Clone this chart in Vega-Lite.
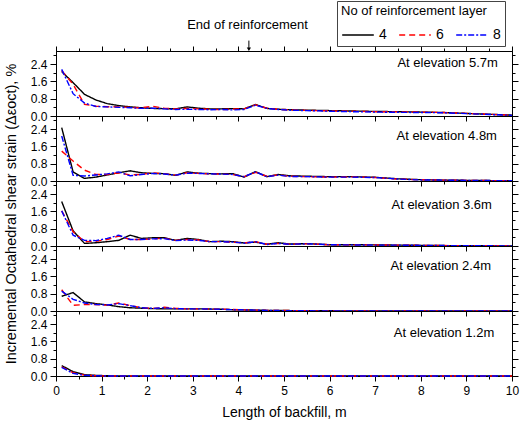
{
"$schema":"https://vega.github.io/schema/vega-lite/v6.json",
"padding":{"left":2,"top":0,"right":3,"bottom":2},
"bounds":"flush",
"spacing":0,
"config":{
 "font":"Liberation Sans",
 "view":{"stroke":"black","strokeWidth":1},
 "axis":{"grid":false,"domainColor":"black","tickColor":"black","labelColor":"black","titleColor":"black","labelFont":"Liberation Sans","titleFont":"Liberation Sans","labelFontSize":12,"titleFontSize":14,"titleFontWeight":"normal","labelFlush":false,"labelPadding":3,"tickWidth":1,"domainWidth":1},
 "legend":{"titleFont":"Liberation Sans","titleFontSize":13,"titleFontWeight":"normal","titleColor":"black","labelFont":"Liberation Sans","labelFontSize":14,"labelColor":"black","symbolType":"stroke","symbolSize":1000,"symbolStrokeWidth":1.5,"strokeColor":"#444444","padding":4,"columnPadding":9,"labelOffset":4,"titlePadding":0,"rowPadding":0}
},
"datasets":{
 "lab":[{"e":"5.7","t":"At elevation 5.7m"},{"e":"4.8","t":"At elevation 4.8m"},{"e":"3.6","t":"At elevation 3.6m"},{"e":"2.4","t":"At elevation 2.4m"},{"e":"1.2","t":"At elevation 1.2m"}],
 "ann":[{"t":"End of reinforcement"}],
 "d":[
{"e":"5.7","x":0.125,"4":2.05,"6":2.1,"8":2.15},
{"e":"5.7","x":0.375,"4":1.54,"6":1.46,"8":1.03},
{"e":"5.7","x":0.625,"4":1.0,"6":0.54,"8":0.6},
{"e":"5.7","x":0.875,"4":0.74,"6":0.45,"8":0.44},
{"e":"5.7","x":1.125,"4":0.57,"6":0.43,"8":0.42},
{"e":"5.7","x":1.375,"4":0.48,"6":0.42,"8":0.4},
{"e":"5.7","x":1.625,"4":0.42,"6":0.4,"8":0.38},
{"e":"5.7","x":1.875,"4":0.38,"6":0.38,"8":0.35},
{"e":"5.7","x":2.125,"4":0.35,"6":0.45,"8":0.36},
{"e":"5.7","x":2.375,"4":0.34,"6":0.36,"8":0.33},
{"e":"5.7","x":2.625,"4":0.33,"6":0.33,"8":0.3},
{"e":"5.7","x":2.875,"4":0.42,"6":0.35,"8":0.31},
{"e":"5.7","x":3.125,"4":0.36,"6":0.33,"8":0.3},
{"e":"5.7","x":3.375,"4":0.33,"6":0.31,"8":0.29},
{"e":"5.7","x":3.625,"4":0.33,"6":0.3,"8":0.3},
{"e":"5.7","x":3.875,"4":0.34,"6":0.32,"8":0.28},
{"e":"5.7","x":4.125,"4":0.33,"6":0.33,"8":0.3},
{"e":"5.7","x":4.375,"4":0.53,"6":0.52,"8":0.5},
{"e":"5.7","x":4.625,"4":0.35,"6":0.36,"8":0.35},
{"e":"5.7","x":4.875,"4":0.31,"6":0.31,"8":0.3},
{"e":"5.7","x":5.125,"4":0.29,"6":0.28,"8":0.27},
{"e":"5.7","x":5.5,"4":0.27,"6":0.26,"8":0.25},
{"e":"5.7","x":6,"4":0.25,"6":0.24,"8":0.22},
{"e":"5.7","x":6.5,"4":0.23,"6":0.22,"8":0.2},
{"e":"5.7","x":7,"4":0.21,"6":0.2,"8":0.18},
{"e":"5.7","x":7.5,"4":0.2,"6":0.19,"8":0.17},
{"e":"5.7","x":8,"4":0.18,"6":0.18,"8":0.16},
{"e":"5.7","x":8.5,"4":0.16,"6":0.16,"8":0.15},
{"e":"5.7","x":9,"4":0.12,"6":0.12,"8":0.11},
{"e":"5.7","x":9.5,"4":0.08,"6":0.08,"8":0.07},
{"e":"5.7","x":10,"4":0.04,"6":0.04,"8":0.03},
{"e":"4.8","x":0.125,"4":2.46,"6":1.38,"8":2.08},
{"e":"4.8","x":0.375,"4":0.42,"6":0.92,"8":0.26},
{"e":"4.8","x":0.625,"4":0.12,"6":0.5,"8":0.23},
{"e":"4.8","x":0.875,"4":0.18,"6":0.3,"8":0.28},
{"e":"4.8","x":1.125,"4":0.28,"6":0.3,"8":0.33},
{"e":"4.8","x":1.375,"4":0.38,"6":0.38,"8":0.42},
{"e":"4.8","x":1.625,"4":0.47,"6":0.28,"8":0.24},
{"e":"4.8","x":1.875,"4":0.38,"6":0.3,"8":0.3},
{"e":"4.8","x":2.125,"4":0.35,"6":0.38,"8":0.35},
{"e":"4.8","x":2.375,"4":0.34,"6":0.33,"8":0.32},
{"e":"4.8","x":2.625,"4":0.26,"6":0.27,"8":0.27},
{"e":"4.8","x":2.875,"4":0.42,"6":0.38,"8":0.36},
{"e":"4.8","x":3.125,"4":0.36,"6":0.35,"8":0.35},
{"e":"4.8","x":3.375,"4":0.34,"6":0.33,"8":0.33},
{"e":"4.8","x":3.625,"4":0.33,"6":0.32,"8":0.32},
{"e":"4.8","x":3.875,"4":0.34,"6":0.3,"8":0.3},
{"e":"4.8","x":4.125,"4":0.18,"6":0.2,"8":0.2},
{"e":"4.8","x":4.375,"4":0.43,"6":0.4,"8":0.42},
{"e":"4.8","x":4.625,"4":0.2,"6":0.22,"8":0.2},
{"e":"4.8","x":4.875,"4":0.3,"6":0.28,"8":0.27},
{"e":"4.8","x":5.125,"4":0.24,"6":0.22,"8":0.21},
{"e":"4.8","x":5.5,"4":0.22,"6":0.2,"8":0.2},
{"e":"4.8","x":6,"4":0.2,"6":0.18,"8":0.18},
{"e":"4.8","x":6.5,"4":0.2,"6":0.19,"8":0.18},
{"e":"4.8","x":7,"4":0.17,"6":0.16,"8":0.16},
{"e":"4.8","x":7.5,"4":0.1,"6":0.09,"8":0.09},
{"e":"4.8","x":8,"4":0.06,"6":0.06,"8":0.05},
{"e":"4.8","x":8.5,"4":0.04,"6":0.04,"8":0.04},
{"e":"4.8","x":9,"4":0.03,"6":0.03,"8":0.03},
{"e":"4.8","x":9.5,"4":0.02,"6":0.02,"8":0.02},
{"e":"4.8","x":10,"4":0.01,"6":0.01,"8":0.01},
{"e":"3.6","x":0.125,"4":2.05,"6":1.62,"8":1.62},
{"e":"3.6","x":0.375,"4":0.7,"6":0.66,"8":0.5},
{"e":"3.6","x":0.625,"4":0.12,"6":0.2,"8":0.26},
{"e":"3.6","x":0.875,"4":0.15,"6":0.22,"8":0.25},
{"e":"3.6","x":1.125,"4":0.2,"6":0.3,"8":0.35},
{"e":"3.6","x":1.375,"4":0.26,"6":0.46,"8":0.5},
{"e":"3.6","x":1.625,"4":0.5,"6":0.3,"8":0.3},
{"e":"3.6","x":1.875,"4":0.35,"6":0.3,"8":0.3},
{"e":"3.6","x":2.125,"4":0.38,"6":0.33,"8":0.33},
{"e":"3.6","x":2.375,"4":0.38,"6":0.36,"8":0.34},
{"e":"3.6","x":2.625,"4":0.26,"6":0.26,"8":0.25},
{"e":"3.6","x":2.875,"4":0.35,"6":0.3,"8":0.28},
{"e":"3.6","x":3.125,"4":0.3,"6":0.28,"8":0.26},
{"e":"3.6","x":3.375,"4":0.2,"6":0.2,"8":0.2},
{"e":"3.6","x":3.625,"4":0.22,"6":0.2,"8":0.2},
{"e":"3.6","x":3.875,"4":0.2,"6":0.18,"8":0.18},
{"e":"3.6","x":4.125,"4":0.14,"6":0.14,"8":0.13},
{"e":"3.6","x":4.375,"4":0.18,"6":0.2,"8":0.2},
{"e":"3.6","x":4.625,"4":0.08,"6":0.08,"8":0.07},
{"e":"3.6","x":4.875,"4":0.15,"6":0.12,"8":0.12},
{"e":"3.6","x":5.125,"4":0.09,"6":0.08,"8":0.08},
{"e":"3.6","x":5.5,"4":0.11,"6":0.1,"8":0.1},
{"e":"3.6","x":6,"4":0.06,"6":0.06,"8":0.06},
{"e":"3.6","x":6.5,"4":0.06,"6":0.05,"8":0.05},
{"e":"3.6","x":7,"4":0.05,"6":0.05,"8":0.04},
{"e":"3.6","x":7.5,"4":0.04,"6":0.04,"8":0.04},
{"e":"3.6","x":8,"4":0.03,"6":0.03,"8":0.03},
{"e":"3.6","x":8.5,"4":0.02,"6":0.02,"8":0.02},
{"e":"3.6","x":9,"4":0.01,"6":0.01,"8":0.01},
{"e":"3.6","x":9.5,"4":0.01,"6":0.01,"8":0.01},
{"e":"3.6","x":10,"4":0,"6":0,"8":0},
{"e":"2.4","x":0.125,"4":0.68,"6":0.98,"8":0.92},
{"e":"2.4","x":0.375,"4":0.85,"6":0.26,"8":0.54},
{"e":"2.4","x":0.625,"4":0.42,"6":0.3,"8":0.37},
{"e":"2.4","x":0.875,"4":0.34,"6":0.3,"8":0.3},
{"e":"2.4","x":1.125,"4":0.28,"6":0.27,"8":0.28},
{"e":"2.4","x":1.375,"4":0.2,"6":0.37,"8":0.34},
{"e":"2.4","x":1.625,"4":0.15,"6":0.25,"8":0.25},
{"e":"2.4","x":1.875,"4":0.13,"6":0.15,"8":0.15},
{"e":"2.4","x":2.125,"4":0.11,"6":0.12,"8":0.12},
{"e":"2.4","x":2.375,"4":0.1,"6":0.17,"8":0.15},
{"e":"2.4","x":2.625,"4":0.1,"6":0.12,"8":0.11},
{"e":"2.4","x":2.875,"4":0.1,"6":0.1,"8":0.1},
{"e":"2.4","x":3.125,"4":0.1,"6":0.1,"8":0.1},
{"e":"2.4","x":3.375,"4":0.09,"6":0.09,"8":0.09},
{"e":"2.4","x":3.625,"4":0.08,"6":0.08,"8":0.08},
{"e":"2.4","x":3.875,"4":0.06,"6":0.07,"8":0.06},
{"e":"2.4","x":4.125,"4":0.05,"6":0.05,"8":0.05},
{"e":"2.4","x":4.375,"4":0.04,"6":0.04,"8":0.04},
{"e":"2.4","x":4.625,"4":0.03,"6":0.03,"8":0.03},
{"e":"2.4","x":4.875,"4":0.02,"6":0.02,"8":0.02},
{"e":"2.4","x":5.125,"4":0.02,"6":0.02,"8":0.01},
{"e":"2.4","x":5.5,"4":0.01,"6":0.01,"8":0.01},
{"e":"2.4","x":6,"4":0.01,"6":0,"8":0},
{"e":"2.4","x":6.5,"4":0,"6":0,"8":0},
{"e":"2.4","x":7,"4":0,"6":0,"8":0},
{"e":"2.4","x":7.5,"4":0,"6":0,"8":0},
{"e":"2.4","x":8,"4":0,"6":0,"8":0},
{"e":"2.4","x":8.5,"4":0,"6":0,"8":0},
{"e":"2.4","x":9,"4":0,"6":0,"8":0},
{"e":"2.4","x":9.5,"4":0,"6":0,"8":0},
{"e":"2.4","x":10,"4":0,"6":0,"8":0},
{"e":"1.2","x":0.125,"4":0.48,"6":0.42,"8":0.4},
{"e":"1.2","x":0.375,"4":0.2,"6":0.15,"8":0.12},
{"e":"1.2","x":0.625,"4":0.06,"6":0.04,"8":0.03},
{"e":"1.2","x":0.875,"4":0.03,"6":0.01,"8":0.01},
{"e":"1.2","x":1.125,"4":0.01,"6":0,"8":0},
{"e":"1.2","x":1.375,"4":0,"6":0,"8":0},
{"e":"1.2","x":2,"4":0,"6":0,"8":0},
{"e":"1.2","x":3,"4":0,"6":0,"8":0},
{"e":"1.2","x":4,"4":0,"6":0,"8":0},
{"e":"1.2","x":5,"4":0,"6":0,"8":0},
{"e":"1.2","x":6,"4":0,"6":0,"8":0},
{"e":"1.2","x":7,"4":0,"6":0,"8":0},
{"e":"1.2","x":8,"4":0,"6":0,"8":0},
{"e":"1.2","x":9,"4":0,"6":0,"8":0},
{"e":"1.2","x":10,"4":0,"6":0,"8":0}
 ]
},
"vconcat":[
{
 "width":456,"height":65,
 "layer":[
  {"data":{"name":"d"},"transform":[{"filter":"datum.e === '5.7'"},{"fold":["4","6","8"],"as":["n","y"]}],
   "mark":{"type":"line","strokeWidth":1.4},
   "encoding":{
    "x":{"field":"x","type":"quantitative","scale":{"domain":[0,10],"nice":false,"zero":false},"axis":{"orient":"bottom","values":[0,0.5,1,1.5,2,2.5,3,3.5,4,4.5,5,5.5,6,6.5,7,7.5,8,8.5,9,9.5,10],"labels":false,"title":null,"tickSize":{"condition":{"test":"datum.value % 1 === 0","value":5},"value":3}}},
    "y":{"field":"y","type":"quantitative","scale":{"domain":[0,3],"nice":false},"axis":{"orient":"left","values":[0,0.4,0.8,1.2,1.6,2,2.4,2.8],"labelExpr":"round(datum.value*10) % 8 === 0 ? format(datum.value, '.1f') : ''","title":null,"tickSize":{"condition":{"test":"round(datum.value*10) % 8 === 0","value":6},"value":3}}},
    "color":{"field":"n","type":"nominal","scale":{"domain":["4","6","8"],"range":["#000000","#ff0000","#0000ff"]},"legend":{"title":"No of reinforcement layer","orient":"none","legendX":281,"legendY":-50,"direction":"horizontal","titleFontSize":13,"labelFontSize":14}},
    "strokeDash":{"field":"n","type":"nominal","scale":{"domain":["4","6","8"],"range":[[1,0],[6,4],[6,2,2,2]]},"legend":{"title":"No of reinforcement layer","orient":"none","legendX":281,"legendY":-50,"direction":"horizontal","titleFontSize":13,"labelFontSize":14}}
   }},
  {"data":{"name":"d"},"transform":[{"filter":"datum.e === '5.7'"},{"fold":["4","6","8"],"as":["n","y"]}],
   "mark":{"type":"point","opacity":0},
   "encoding":{
    "x":{"field":"x","type":"quantitative","scale":{"domain":[0,10],"nice":false,"zero":false},"axis":{"orient":"top","values":[0,0.5,1,1.5,2,2.5,3,3.5,4,4.5,5,5.5,6,6.5,7,7.5,8,8.5,9,9.5,10],"labels":false,"title":null,"tickSize":{"condition":{"test":"datum.value % 1 === 0","value":5},"value":3}}},
    "y":{"field":"y","type":"quantitative","scale":{"domain":[0,3],"nice":false},"axis":{"orient":"right","values":[0,0.4,0.8,1.2,1.6,2,2.4,2.8],"labels":false,"title":null,"tickSize":{"condition":{"test":"round(datum.value*10) % 8 === 0","value":6},"value":3}}}
   }},
  {"data":{"name":"lab"},"transform":[{"filter":"datum.e === '5.7'"}],
   "mark":{"type":"text","align":"right","baseline":"middle","fontSize":13,"font":"Liberation Sans","color":"black"},
   "encoding":{
    "x":{"datum":9.69,"type":"quantitative","scale":{"domain":[0,10],"nice":false,"zero":false},"axis":null},
    "y":{"datum":2.45,"type":"quantitative","scale":{"domain":[0,3],"nice":false},"axis":null},
    "text":{"field":"t"}
   }},
  {"data":{"name":"ann"},
   "mark":{"type":"text","align":"center","baseline":"middle","fontSize":13,"font":"Liberation Sans","color":"black"},
   "encoding":{
    "x":{"datum":4.2,"type":"quantitative","scale":{"domain":[0,10],"nice":false,"zero":false},"axis":null},
    "y":{"datum":4.22,"type":"quantitative","scale":{"domain":[0,3],"nice":false},"axis":null},
    "text":{"field":"t"}
   }},
  {"data":{"name":"ann"},
   "mark":{"type":"rule","color":"black","strokeWidth":1},
   "encoding":{
    "x":{"datum":4.23,"type":"quantitative","scale":{"domain":[0,10],"nice":false,"zero":false},"axis":null},
    "y":{"datum":3.48,"type":"quantitative","scale":{"domain":[0,3],"nice":false},"axis":null},
    "y2":{"datum":3.1}
   }},
  {"data":{"name":"ann"},
   "mark":{"type":"point","shape":"triangle-down","filled":true,"color":"black","size":18,"opacity":1},
   "encoding":{
    "x":{"datum":4.23,"type":"quantitative","scale":{"domain":[0,10],"nice":false,"zero":false},"axis":null},
    "y":{"datum":3.08,"type":"quantitative","scale":{"domain":[0,3],"nice":false},"axis":null}
   }}
 ],
 "resolve":{"axis":{"x":"independent","y":"independent"}}
},
{
 "width":456,"height":65,
 "layer":[
  {"data":{"name":"d"},"transform":[{"filter":"datum.e === '4.8'"},{"fold":["4","6","8"],"as":["n","y"]}],
   "mark":{"type":"line","strokeWidth":1.4},
   "encoding":{
    "x":{"field":"x","type":"quantitative","scale":{"domain":[0,10],"nice":false,"zero":false},"axis":{"orient":"bottom","values":[0,0.5,1,1.5,2,2.5,3,3.5,4,4.5,5,5.5,6,6.5,7,7.5,8,8.5,9,9.5,10],"labels":false,"title":null,"tickSize":{"condition":{"test":"datum.value % 1 === 0","value":5},"value":3}}},
    "y":{"field":"y","type":"quantitative","scale":{"domain":[0,3],"nice":false},"axis":{"orient":"left","values":[0,0.4,0.8,1.2,1.6,2,2.4,2.8],"labelExpr":"round(datum.value*10) % 8 === 0 ? format(datum.value, '.1f') : ''","title":null,"tickSize":{"condition":{"test":"round(datum.value*10) % 8 === 0","value":6},"value":3}}},
    "color":{"field":"n","type":"nominal","scale":{"domain":["4","6","8"],"range":["#000000","#ff0000","#0000ff"]},"legend":{"title":"No of reinforcement layer","orient":"none","legendX":281,"legendY":-50,"direction":"horizontal","titleFontSize":13,"labelFontSize":14}},
    "strokeDash":{"field":"n","type":"nominal","scale":{"domain":["4","6","8"],"range":[[1,0],[6,4],[6,2,2,2]]},"legend":{"title":"No of reinforcement layer","orient":"none","legendX":281,"legendY":-50,"direction":"horizontal","titleFontSize":13,"labelFontSize":14}}
   }},
  {"data":{"name":"d"},"transform":[{"filter":"datum.e === '4.8'"},{"fold":["4","6","8"],"as":["n","y"]}],
   "mark":{"type":"point","opacity":0},
   "encoding":{
    "x":{"field":"x","type":"quantitative","scale":{"domain":[0,10],"nice":false,"zero":false},"axis":null},
    "y":{"field":"y","type":"quantitative","scale":{"domain":[0,3],"nice":false},"axis":{"orient":"right","values":[0,0.4,0.8,1.2,1.6,2,2.4,2.8],"labels":false,"title":null,"tickSize":{"condition":{"test":"round(datum.value*10) % 8 === 0","value":6},"value":3}}}
   }},
  {"data":{"name":"lab"},"transform":[{"filter":"datum.e === '4.8'"}],
   "mark":{"type":"text","align":"right","baseline":"middle","fontSize":13,"font":"Liberation Sans","color":"black"},
   "encoding":{
    "x":{"datum":9.67,"type":"quantitative","scale":{"domain":[0,10],"nice":false,"zero":false},"axis":null},
    "y":{"datum":2.08,"type":"quantitative","scale":{"domain":[0,3],"nice":false},"axis":null},
    "text":{"field":"t"}
   }}
 ],
 "resolve":{"axis":{"x":"independent","y":"independent"}}
},
{
 "width":456,"height":65,
 "layer":[
  {"data":{"name":"d"},"transform":[{"filter":"datum.e === '3.6'"},{"fold":["4","6","8"],"as":["n","y"]}],
   "mark":{"type":"line","strokeWidth":1.4},
   "encoding":{
    "x":{"field":"x","type":"quantitative","scale":{"domain":[0,10],"nice":false,"zero":false},"axis":{"orient":"bottom","values":[0,0.5,1,1.5,2,2.5,3,3.5,4,4.5,5,5.5,6,6.5,7,7.5,8,8.5,9,9.5,10],"labels":false,"title":null,"tickSize":{"condition":{"test":"datum.value % 1 === 0","value":5},"value":3}}},
    "y":{"field":"y","type":"quantitative","scale":{"domain":[0,3],"nice":false},"axis":{"orient":"left","values":[0,0.4,0.8,1.2,1.6,2,2.4,2.8],"labelExpr":"round(datum.value*10) % 8 === 0 ? format(datum.value, '.1f') : ''","title":"Incremental Octahedral shear strain (Δεoct), %","titleFontSize":14.5,"titlePadding":12,"tickSize":{"condition":{"test":"round(datum.value*10) % 8 === 0","value":6},"value":3}}},
    "color":{"field":"n","type":"nominal","scale":{"domain":["4","6","8"],"range":["#000000","#ff0000","#0000ff"]},"legend":{"title":"No of reinforcement layer","orient":"none","legendX":281,"legendY":-50,"direction":"horizontal","titleFontSize":13,"labelFontSize":14}},
    "strokeDash":{"field":"n","type":"nominal","scale":{"domain":["4","6","8"],"range":[[1,0],[6,4],[6,2,2,2]]},"legend":{"title":"No of reinforcement layer","orient":"none","legendX":281,"legendY":-50,"direction":"horizontal","titleFontSize":13,"labelFontSize":14}}
   }},
  {"data":{"name":"d"},"transform":[{"filter":"datum.e === '3.6'"},{"fold":["4","6","8"],"as":["n","y"]}],
   "mark":{"type":"point","opacity":0},
   "encoding":{
    "x":{"field":"x","type":"quantitative","scale":{"domain":[0,10],"nice":false,"zero":false},"axis":null},
    "y":{"field":"y","type":"quantitative","scale":{"domain":[0,3],"nice":false},"axis":{"orient":"right","values":[0,0.4,0.8,1.2,1.6,2,2.4,2.8],"labels":false,"title":null,"tickSize":{"condition":{"test":"round(datum.value*10) % 8 === 0","value":6},"value":3}}}
   }},
  {"data":{"name":"lab"},"transform":[{"filter":"datum.e === '3.6'"}],
   "mark":{"type":"text","align":"right","baseline":"middle","fontSize":13,"font":"Liberation Sans","color":"black"},
   "encoding":{
    "x":{"datum":9.56,"type":"quantitative","scale":{"domain":[0,10],"nice":false,"zero":false},"axis":null},
    "y":{"datum":1.87,"type":"quantitative","scale":{"domain":[0,3],"nice":false},"axis":null},
    "text":{"field":"t"}
   }}
 ],
 "resolve":{"axis":{"x":"independent","y":"independent"}}
},
{
 "width":456,"height":65,
 "layer":[
  {"data":{"name":"d"},"transform":[{"filter":"datum.e === '2.4'"},{"fold":["4","6","8"],"as":["n","y"]}],
   "mark":{"type":"line","strokeWidth":1.4},
   "encoding":{
    "x":{"field":"x","type":"quantitative","scale":{"domain":[0,10],"nice":false,"zero":false},"axis":{"orient":"bottom","values":[0,0.5,1,1.5,2,2.5,3,3.5,4,4.5,5,5.5,6,6.5,7,7.5,8,8.5,9,9.5,10],"labels":false,"title":null,"tickSize":{"condition":{"test":"datum.value % 1 === 0","value":5},"value":3}}},
    "y":{"field":"y","type":"quantitative","scale":{"domain":[0,3],"nice":false},"axis":{"orient":"left","values":[0,0.4,0.8,1.2,1.6,2,2.4,2.8],"labelExpr":"round(datum.value*10) % 8 === 0 ? format(datum.value, '.1f') : ''","title":null,"tickSize":{"condition":{"test":"round(datum.value*10) % 8 === 0","value":6},"value":3}}},
    "color":{"field":"n","type":"nominal","scale":{"domain":["4","6","8"],"range":["#000000","#ff0000","#0000ff"]},"legend":{"title":"No of reinforcement layer","orient":"none","legendX":281,"legendY":-50,"direction":"horizontal","titleFontSize":13,"labelFontSize":14}},
    "strokeDash":{"field":"n","type":"nominal","scale":{"domain":["4","6","8"],"range":[[1,0],[6,4],[6,2,2,2]]},"legend":{"title":"No of reinforcement layer","orient":"none","legendX":281,"legendY":-50,"direction":"horizontal","titleFontSize":13,"labelFontSize":14}}
   }},
  {"data":{"name":"d"},"transform":[{"filter":"datum.e === '2.4'"},{"fold":["4","6","8"],"as":["n","y"]}],
   "mark":{"type":"point","opacity":0},
   "encoding":{
    "x":{"field":"x","type":"quantitative","scale":{"domain":[0,10],"nice":false,"zero":false},"axis":null},
    "y":{"field":"y","type":"quantitative","scale":{"domain":[0,3],"nice":false},"axis":{"orient":"right","values":[0,0.4,0.8,1.2,1.6,2,2.4,2.8],"labels":false,"title":null,"tickSize":{"condition":{"test":"round(datum.value*10) % 8 === 0","value":6},"value":3}}}
   }},
  {"data":{"name":"lab"},"transform":[{"filter":"datum.e === '2.4'"}],
   "mark":{"type":"text","align":"right","baseline":"middle","fontSize":13,"font":"Liberation Sans","color":"black"},
   "encoding":{
    "x":{"datum":9.54,"type":"quantitative","scale":{"domain":[0,10],"nice":false,"zero":false},"axis":null},
    "y":{"datum":2.08,"type":"quantitative","scale":{"domain":[0,3],"nice":false},"axis":null},
    "text":{"field":"t"}
   }}
 ],
 "resolve":{"axis":{"x":"independent","y":"independent"}}
},
{
 "width":456,"height":65,
 "layer":[
  {"data":{"name":"d"},"transform":[{"filter":"datum.e === '1.2'"},{"fold":["4","6","8"],"as":["n","y"]}],
   "mark":{"type":"line","strokeWidth":1.4},
   "encoding":{
    "x":{"field":"x","type":"quantitative","scale":{"domain":[0,10],"nice":false,"zero":false},"axis":{"orient":"bottom","values":[0,0.5,1,1.5,2,2.5,3,3.5,4,4.5,5,5.5,6,6.5,7,7.5,8,8.5,9,9.5,10],"labelExpr":"datum.value % 1 === 0 ? format(datum.value, 'd') : ''","labelPadding":4,"title":"Length of backfill, m","titlePadding":9,"tickSize":{"condition":{"test":"datum.value % 1 === 0","value":5},"value":3}}},
    "y":{"field":"y","type":"quantitative","scale":{"domain":[0,3],"nice":false},"axis":{"orient":"left","values":[0,0.4,0.8,1.2,1.6,2,2.4,2.8],"labelExpr":"round(datum.value*10) % 8 === 0 ? format(datum.value, '.1f') : ''","title":null,"tickSize":{"condition":{"test":"round(datum.value*10) % 8 === 0","value":6},"value":3}}},
    "color":{"field":"n","type":"nominal","scale":{"domain":["4","6","8"],"range":["#000000","#ff0000","#0000ff"]},"legend":{"title":"No of reinforcement layer","orient":"none","legendX":281,"legendY":-50,"direction":"horizontal","titleFontSize":13,"labelFontSize":14}},
    "strokeDash":{"field":"n","type":"nominal","scale":{"domain":["4","6","8"],"range":[[1,0],[6,4],[6,2,2,2]]},"legend":{"title":"No of reinforcement layer","orient":"none","legendX":281,"legendY":-50,"direction":"horizontal","titleFontSize":13,"labelFontSize":14}}
   }},
  {"data":{"name":"d"},"transform":[{"filter":"datum.e === '1.2'"},{"fold":["4","6","8"],"as":["n","y"]}],
   "mark":{"type":"point","opacity":0},
   "encoding":{
    "x":{"field":"x","type":"quantitative","scale":{"domain":[0,10],"nice":false,"zero":false},"axis":null},
    "y":{"field":"y","type":"quantitative","scale":{"domain":[0,3],"nice":false},"axis":{"orient":"right","values":[0,0.4,0.8,1.2,1.6,2,2.4,2.8],"labels":false,"title":null,"tickSize":{"condition":{"test":"round(datum.value*10) % 8 === 0","value":6},"value":3}}}
   }},
  {"data":{"name":"lab"},"transform":[{"filter":"datum.e === '1.2'"}],
   "mark":{"type":"text","align":"right","baseline":"middle","fontSize":13,"font":"Liberation Sans","color":"black"},
   "encoding":{
    "x":{"datum":9.61,"type":"quantitative","scale":{"domain":[0,10],"nice":false,"zero":false},"axis":null},
    "y":{"datum":1.99,"type":"quantitative","scale":{"domain":[0,3],"nice":false},"axis":null},
    "text":{"field":"t"}
   }}
 ],
 "resolve":{"axis":{"x":"independent","y":"independent"}}
}
]
}
